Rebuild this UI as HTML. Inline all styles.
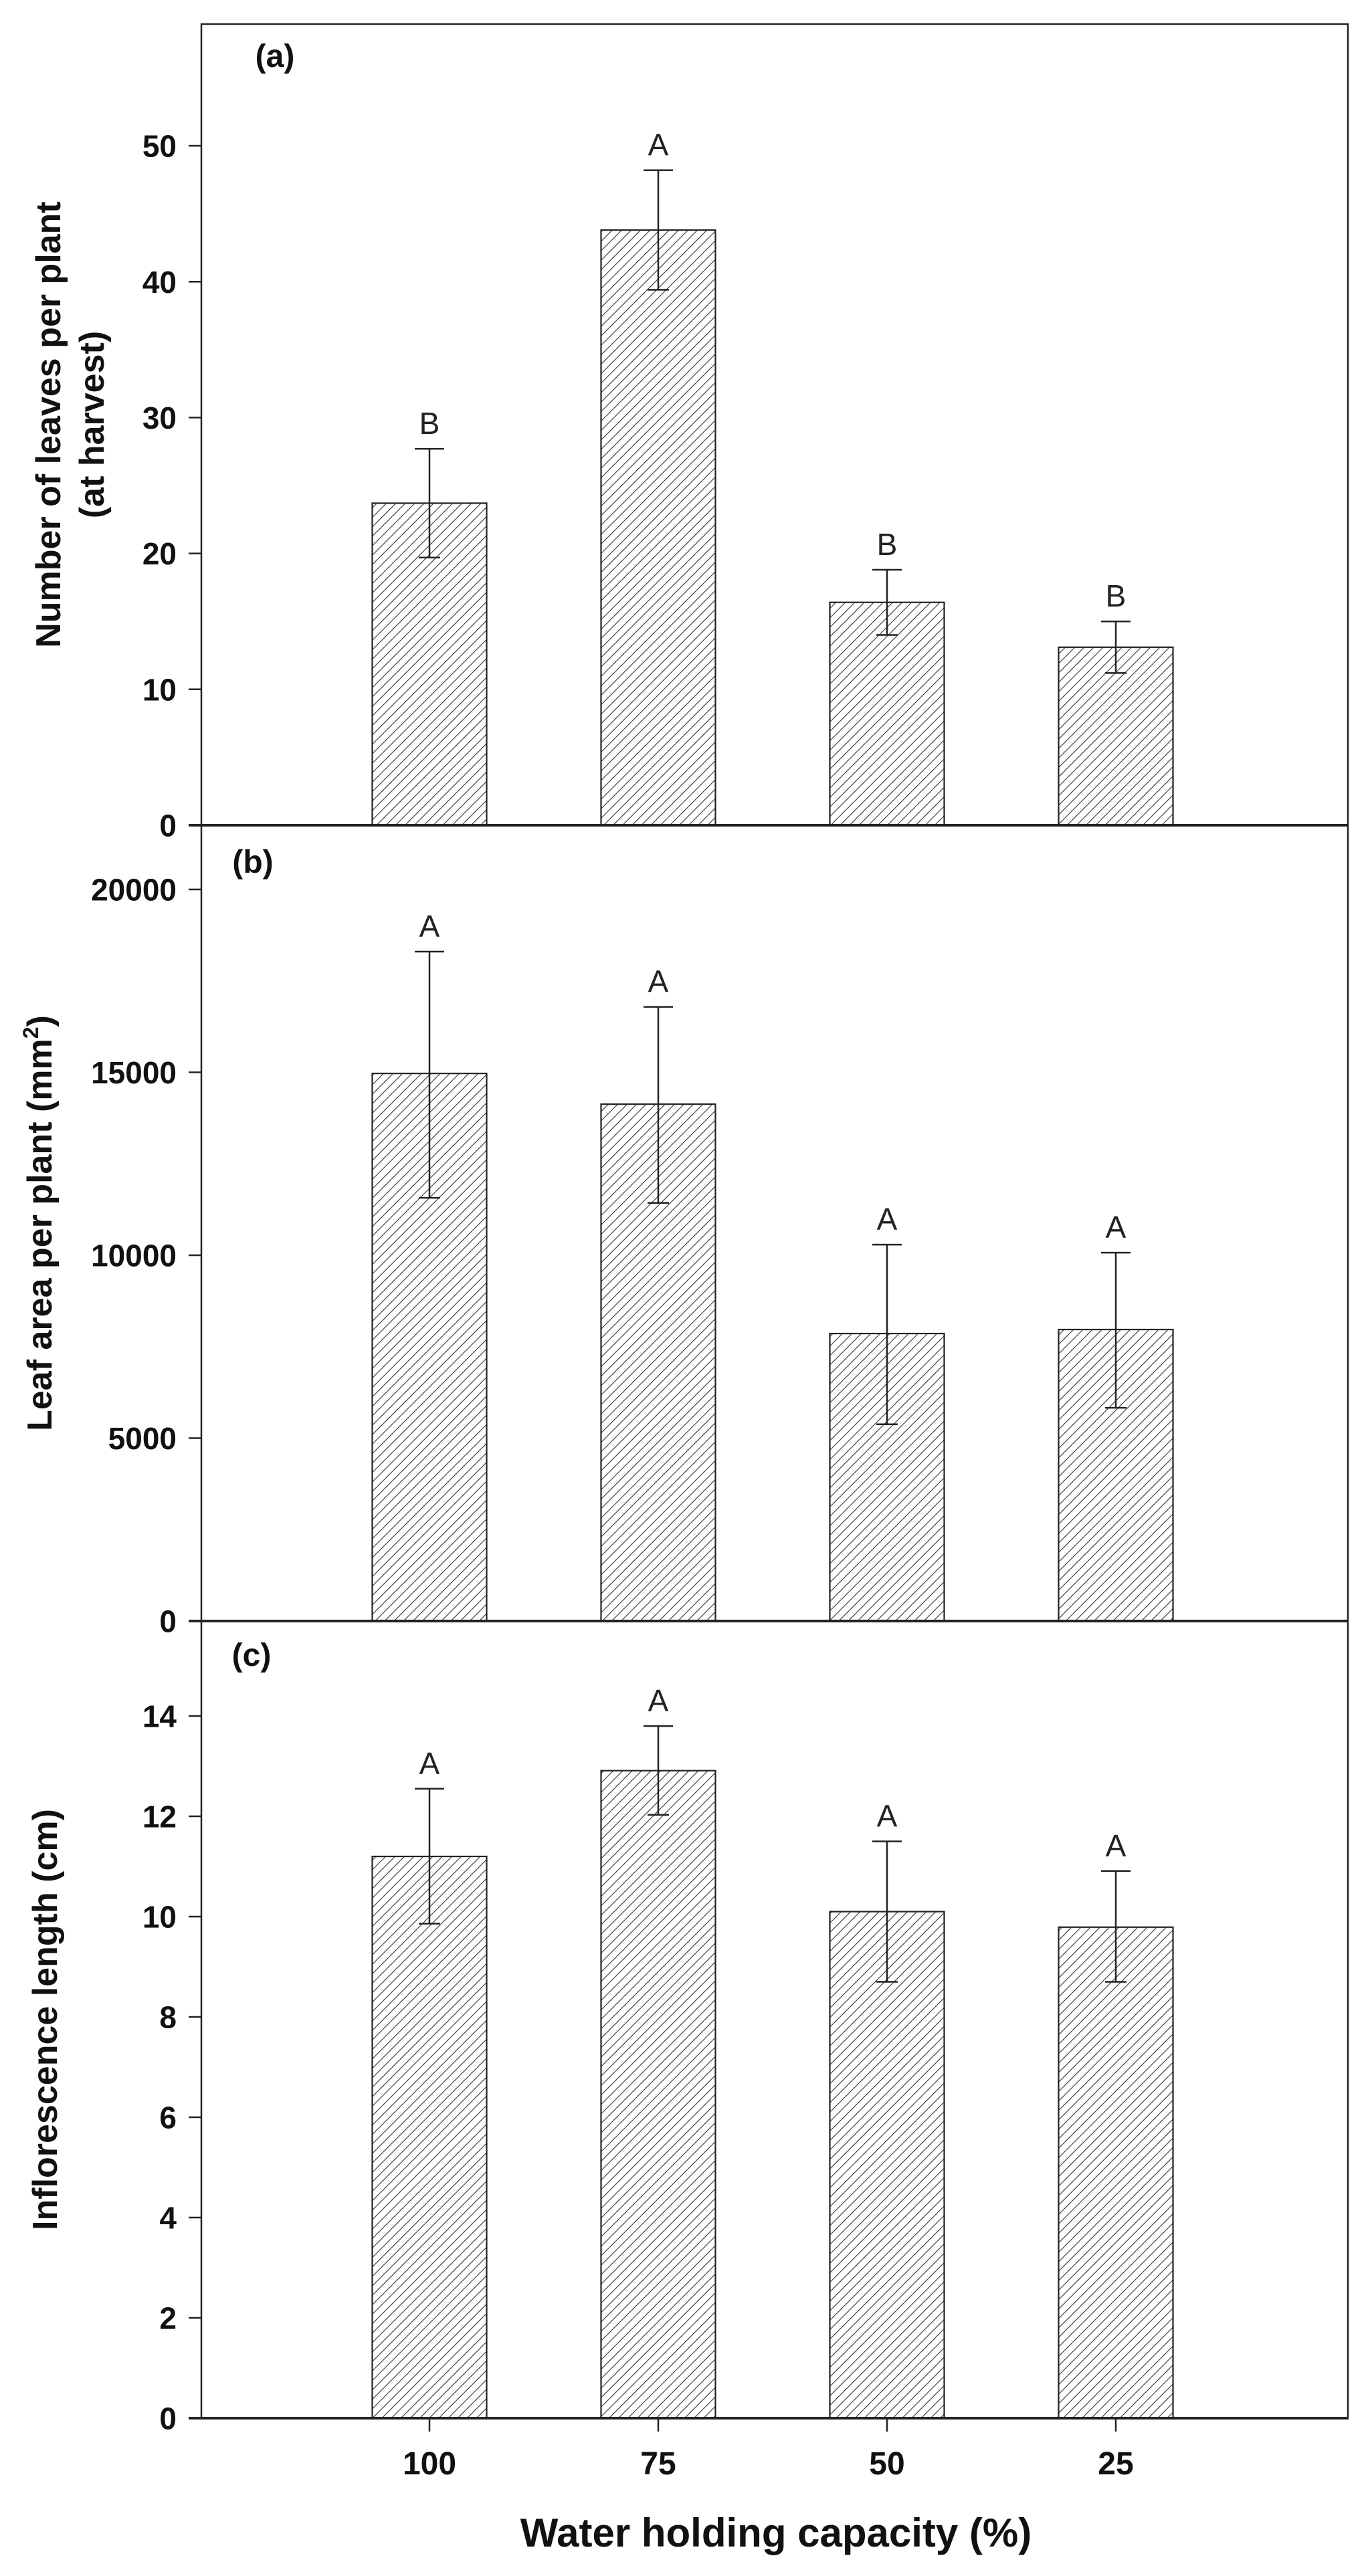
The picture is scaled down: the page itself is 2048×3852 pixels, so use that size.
<!DOCTYPE html>
<html><head><meta charset="utf-8">
<style>
html,body{margin:0;padding:0;background:#fff;}
svg{display:block;}
</style></head>
<body>
<svg id="chart" xmlns="http://www.w3.org/2000/svg" width="2048" height="3852" viewBox="0 0 2048 3852">
<defs>
<pattern id="hatch" patternUnits="userSpaceOnUse" width="10" height="10" patternTransform="rotate(45)">
<rect width="10" height="10" fill="#fff"/>
<line x1="0" y1="0" x2="0" y2="10" stroke="#333" stroke-width="2.2"/>
</pattern>
</defs>
<g id="root"></g>
</svg>
<script>
const categories = ["100", "75", "50", "25"];
const leavesMean = [23.7, 43.8, 16.4, 13.1];
const leavesUpper = [27.7, 48.2, 18.8, 15.0];
const leavesLower = [19.7, 39.4, 14.0, 11.2];
const leavesLetters = ["B", "A", "B", "B"];
const leavesTicks = [0, 10, 20, 30, 40, 50];
const areaMean = [14970, 14130, 7860, 7970];
const areaUpper = [18300, 16790, 10290, 10070];
const areaLower = [11570, 11430, 5380, 5830];
const areaLetters = ["A", "A", "A", "A"];
const areaTicks = [0, 5000, 10000, 15000, 20000];
const inflMean = [11.2, 12.91, 10.1, 9.79];
const inflUpper = [12.55, 13.8, 11.5, 10.91];
const inflLower = [9.86, 12.03, 8.7, 8.7];
const inflLetters = ["A", "A", "A", "A"];
const inflTicks = [0, 2, 4, 6, 8, 10, 12, 14];

const NS = "http://www.w3.org/2000/svg";
const root = document.getElementById("root");
const X0 = 301, X1 = 2015;
const catStep = 342, cat0 = 642, barW = 171;
function xPos(i){ return cat0 + i*catStep; }
function mk(tag, attrs, parent){
  const e = document.createElementNS(NS, tag);
  for (const k in attrs) e.setAttribute(k, attrs[k]);
  (parent||root).appendChild(e);
  return e;
}
const NARROW = '"Liberation Sans Narrow","Liberation Sans",sans-serif';
const SANS = '"Liberation Sans",sans-serif';

function panel(cfg){
  const g = mk("g", {});
  
  
  const y = v => cfg.zeroY - v*cfg.pxPer;
  const fr = mk("path", {d:`M${X0},${cfg.zeroY} L${X0},${cfg.top} ${cfg.topLine?`L${X1},${cfg.top}`:`M${X1},${cfg.top}`} L${X1},${cfg.zeroY}`, fill:"none", stroke:"#222", "stroke-width":2.5}, g);
  
  
  cfg.mean.forEach((v,i)=>{
    const cx = xPos(i);
    const b = mk("rect", {x:cx-barW/2, y:y(v), width:barW, height:cfg.zeroY-y(v), fill:"url(#hatch)", stroke:"#222", "stroke-width":2.2}, g);
    
    
    const eb = mk("path", {d:`M${cx},${y(cfg.lower[i])} L${cx},${y(cfg.upper[i])} M${cx-22},${y(cfg.upper[i])} L${cx+22},${y(cfg.upper[i])} M${cx-16},${y(cfg.lower[i])} L${cx+16},${y(cfg.lower[i])}`, stroke:"#222", "stroke-width":2.5, fill:"none"}, g);
    
    
    const t = mk("text", {x:cx, y:y(cfg.upper[i])-22, "text-anchor":"middle", "font-family":cfg.font, "font-size":cfg.letterSize, fill:"#222"}, g);
    t.textContent = cfg.letters[i];
    
    
  });
  cfg.ticks.forEach(v=>{
    const tk = mk("line", {x1:282, x2:X0, y1:y(v), y2:y(v), stroke:"#222", "stroke-width":2.5}, g);
    
    
    const tl = mk("text", {x:264, y:y(v)+cfg.tickSize*0.36, "text-anchor":"end", "font-family":cfg.font, "font-weight":"bold", "font-size":cfg.tickSize, fill:"#111"}, g);
    tl.textContent = v;
    
    
  });
  const zl = mk("line", {x1:282, x2:X1+1, y1:cfg.zeroY, y2:cfg.zeroY, stroke:"#222", "stroke-width":4}, g);
  
  
  const pl = mk("text", {x:cfg.labelX, y:cfg.labelY, "text-anchor":"middle", "font-family":cfg.font, "font-weight":"bold", "font-size":cfg.labelSize, fill:"#111"}, g);
  pl.textContent = cfg.label;
  
  
  const cy = (cfg.top + cfg.zeroY)/2;
  cfg.title.forEach((line, k)=>{
    const tx = cfg.titleX[k];
    const tt = mk("text", {x:tx, y:cy, transform:`rotate(-90 ${tx} ${cy})`, "text-anchor":"middle", "font-family":SANS, "font-weight":"bold", "font-size":52, fill:"#111"}, g);
    if (line === "AREA") {
      tt.appendChild(document.createTextNode("Leaf area per plant (mm"));
      const s = document.createElementNS(NS, "tspan");
      s.setAttribute("dy", "-20"); s.setAttribute("font-size", "32"); s.textContent = "2";
      tt.appendChild(s);
      const s2 = document.createElementNS(NS, "tspan");
      s2.setAttribute("dy", "20"); s2.textContent = ")";
      tt.appendChild(s2);
    } else tt.textContent = line;
    
    
  });
}

panel({name:"panel-a", top:36, topLine:true, zeroY:1234, pxPer:20.32, mean:leavesMean, upper:leavesUpper, lower:leavesLower, letters:leavesLetters, ticks:leavesTicks, font:NARROW, tickSize:46, letterSize:46, label:"(a)", labelX:411, labelY:100, labelSize:48, title:["Number of leaves per plant","(at harvest)"], titleX:[90,155]});
panel({name:"panel-b", top:1234, topLine:false, zeroY:2424, pxPer:273.5/5000, mean:areaMean, upper:areaUpper, lower:areaLower, letters:areaLetters, ticks:areaTicks, font:NARROW, tickSize:46, letterSize:46, label:"(b)", labelX:378, labelY:1305, labelSize:48, title:["AREA"], titleX:[77]});
panel({name:"panel-c", top:2424, topLine:false, zeroY:3616, pxPer:75, mean:inflMean, upper:inflUpper, lower:inflLower, letters:inflLetters, ticks:inflTicks, font:SANS, tickSize:46, letterSize:46, label:"(c)", labelX:376, labelY:2491, labelSize:48, title:["Inflorescence length (cm)"], titleX:[85]});

categories.forEach((c,i)=>{
  const t = mk("line", {x1:xPos(i), x2:xPos(i), y1:3616, y2:3636, stroke:"#222", "stroke-width":2.5});
  
  
  const l = mk("text", {x:xPos(i), y:3700, "text-anchor":"middle", "font-family":NARROW, "font-weight":"bold", "font-size":48, fill:"#111"});
  l.textContent = c;
  
  
});
const xt = mk("text", {x:1160, y:3808, "text-anchor":"middle", "font-family":NARROW, "font-weight":"bold", "font-size":60, fill:"#111"});
xt.textContent = "Water holding capacity (%)";


</script>
</body></html>
